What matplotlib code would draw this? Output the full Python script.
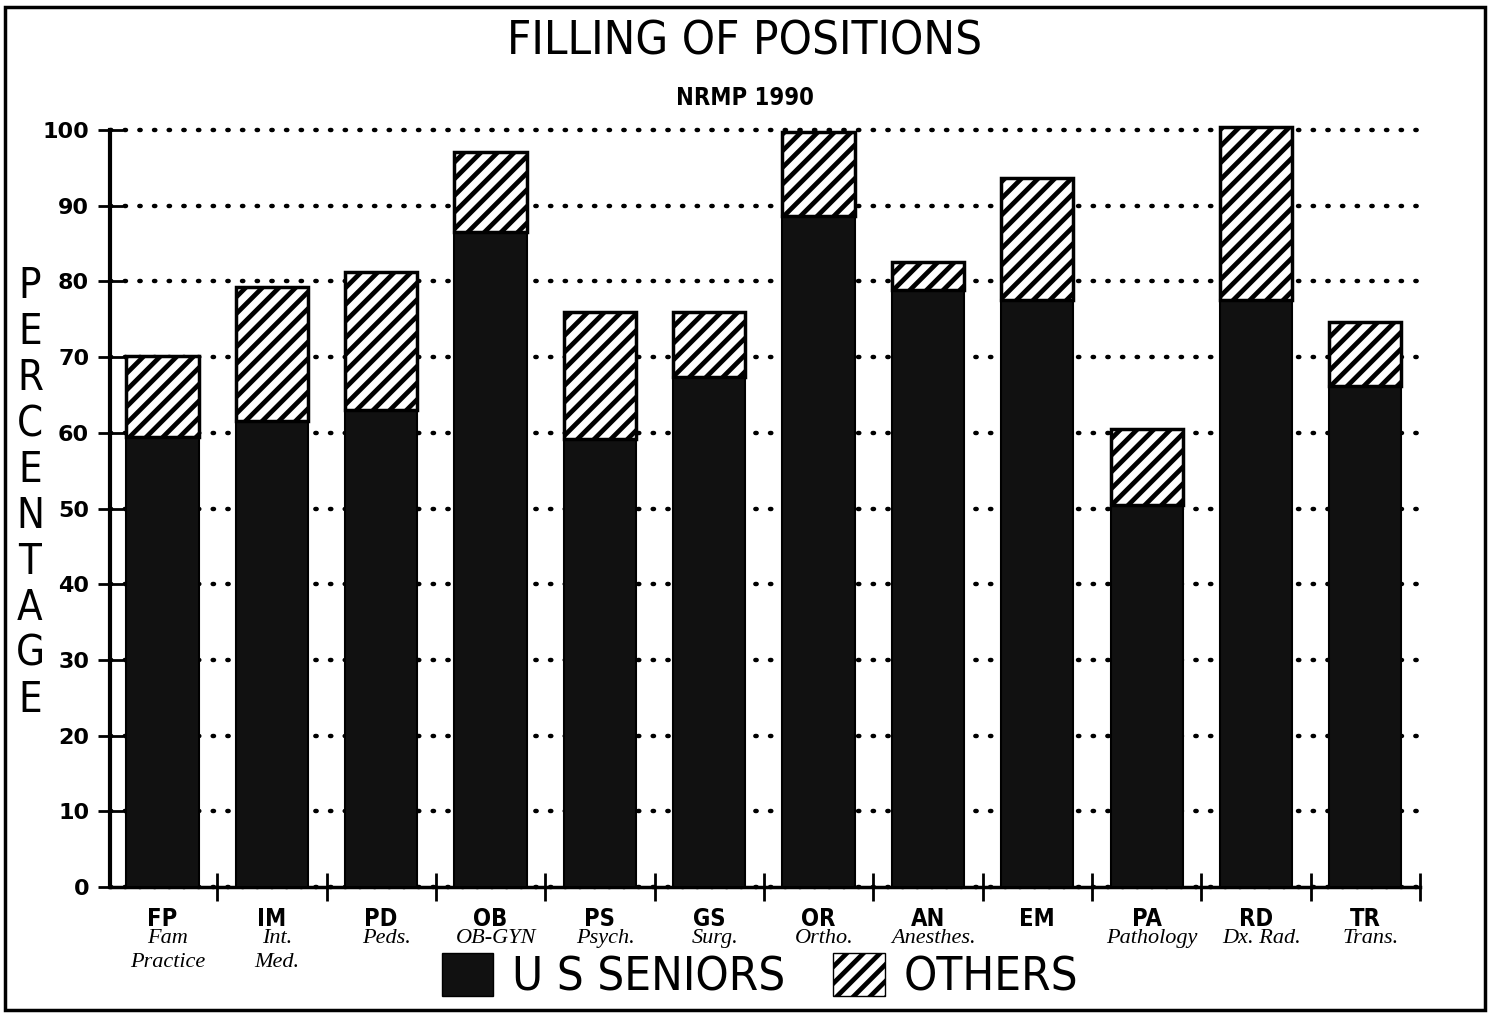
import matplotlib
matplotlib.use("Agg")
import matplotlib.pyplot as plt
from matplotlib.patches import Patch, Rectangle
import numpy as np

categories = ["FP", "IM", "PD", "OB", "PS", "GS", "OR", "AN", "EM", "PA", "RD", "TR"]
notes = ["Fam\nPractice", "Int.\nMed.", "Peds.", "OB-GYN", "Psych.", "Surg.",
         "Ortho.", "Anesthes.", "", "Pathology", "Dx. Rad.", "Trans."]
us_seniors = [59.4, 61.6, 63.0, 86.5, 59.2, 67.4, 88.6, 78.9, 77.5, 50.5, 77.5, 66.2]
total_filled = [70.1, 79.3, 81.2, 97.1, 76.0, 76.0, 99.7, 82.6, 93.7, 60.5, 100.4, 74.6]
others = [t - s for t, s in zip(total_filled, us_seniors)]
yticks = list(range(0, 101, 10))

plt.rcParams["hatch.linewidth"] = 3.4
COND = dict(family="DejaVu Sans", stretch="condensed")

fig = plt.figure(figsize=(14.9, 10.13), dpi=100)
ax = fig.add_axes([110 / 1490, 1 - 887 / 1013, (1420 - 110) / 1490, (887 - 130) / 1013])

x = np.arange(len(categories))
w = 0.66
ax.bar(x, us_seniors, width=w, color="#111111", edgecolor="black", linewidth=1.5,
       zorder=3, clip_on=False)
ax.bar(x, others, bottom=us_seniors, width=w, color="white", edgecolor="black",
       hatch="//", linewidth=2.5, zorder=3, clip_on=False)

ax.set_xlim(-0.48, 11.5)
ax.set_ylim(0, 100)
ax.set_yticks(yticks)
ax.set_yticklabels([str(v) for v in yticks], fontsize=16, fontweight="bold",
                   family="DejaVu Sans")
ax.tick_params(axis="y", direction="inout", length=18, width=2, pad=6)
ax.set_xticks(x + 0.5)
ax.set_xticklabels([])
ax.tick_params(axis="x", direction="inout", length=20, width=2)

for s in ["top", "right"]:
    ax.spines[s].set_visible(False)
ax.spines["left"].set_linewidth(3)
ax.spines["bottom"].set_linewidth(2.5)

ax.yaxis.grid(True, linestyle=(0, (0.3, 3.0)), linewidth=3.2, color="black")
ax.set_axisbelow(True)
for gl in ax.get_ygridlines():
    gl.set_dash_capstyle("round")
    gl.set_clip_on(False)
ax.patch.set_alpha(0)

# category labels
for xi, cat, note in zip(x, categories, notes):
    ax.text(xi, -2.6, cat, ha="center", va="top", fontsize=17, fontweight="bold",
            family="DejaVu Sans", stretch="condensed", clip_on=False)
    if note:
        ax.text(xi + 0.05, -5.6, note, ha="center", va="top", fontsize=16,
                style="italic", family="Liberation Serif", linespacing=1.3,
                clip_on=False)

# titles
fig.text(0.5, 1 - 42 / 1013, "FILLING OF POSITIONS", ha="center", va="center",
         fontsize=34, **COND)
fig.text(0.5, 1 - 98 / 1013, "NRMP 1990", ha="center", va="center",
         fontsize=17, fontweight="bold", family="DejaVu Sans", stretch="condensed")

# y label stacked letters
fig.text(30 / 1490, 1 - 493 / 1013, "\n".join("PERCENTAGE"), ha="center", va="center",
         fontsize=30, linespacing=1.12, **COND)

# legend
handles = [Patch(facecolor="#111111", edgecolor="black", label="U S SENIORS"),
           Patch(facecolor="white", edgecolor="black", hatch="//", label="OTHERS")]
fig.legend(handles=handles, loc="center", bbox_to_anchor=(0.51, 1 - 977 / 1013),
           ncol=2, frameon=False, prop={"family": "DejaVu Sans", "stretch": "condensed",
                                        "size": 34},
           handlelength=1.1, handleheight=1.0, handletextpad=0.4,
           columnspacing=1.0, borderpad=0)

# outer border
fig.add_artist(Rectangle((5 / 1490, 3 / 1013), 1480 / 1490, 1003 / 1013,
                         transform=fig.transFigure, fill=False, edgecolor="black",
                         linewidth=2.5))

fig.savefig("out.png", dpi=100, facecolor="white")
